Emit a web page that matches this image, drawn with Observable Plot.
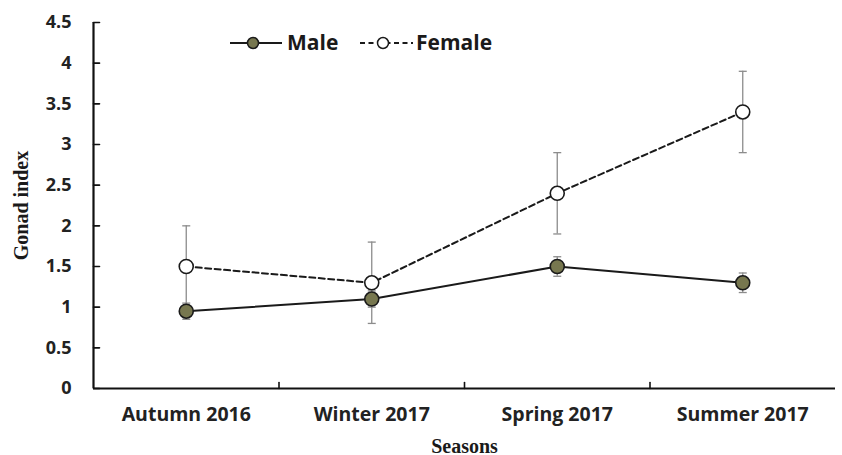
<!DOCTYPE html>
<html>
<head>
<meta charset="utf-8">
<script src="https://cdn.jsdelivr.net/npm/d3@7"></script>
<script src="https://cdn.jsdelivr.net/npm/@observablehq/plot@0.6"></script>
<style>
  body { margin: 0; background: #fff; }
  #chart { position: relative; width: 842px; height: 455px; }
  #chart svg { display: block; }
  g[aria-label="y-axis tick label"], g[aria-label="x-axis tick label"] {
    font-family: "Open Sans", Lato, sans-serif; font-weight: 700; fill: #222;
  }
  g[aria-label="y-axis tick label"] { font-size: 18px; }
  g[aria-label="x-axis tick label"] { font-size: 19.5px; }
  g[aria-label="y-axis label"], g[aria-label="x-axis label"] {
    font-family: "Liberation Serif", "DejaVu Serif", serif; font-weight: 700; font-size: 20px; fill: #1a1a1a;
  }
  #legend { position: absolute; left: 222px; top: 26px; overflow: visible; }
  #legend text { font-family: "Open Sans", Lato, sans-serif; font-weight: 700; font-size: 21px; fill: #1a1a1a; }
</style>
</head>
<body>
<div id="chart"></div>
<script>
// Seasonal gonad index (mean ± SE) of males and females
const seasons = ["Autumn 2016", "Winter 2017", "Spring 2017", "Summer 2017"];
const maleMean = [0.95, 1.1, 1.5, 1.3];
const maleSE = [0.1, 0.1, 0.12, 0.12];
const femaleMean = [1.5, 1.3, 2.4, 3.4];
const femaleSE = [0.5, 0.5, 0.5, 0.5];
const yTicks = [0, 0.5, 1, 1.5, 2, 2.5, 3, 3.5, 4, 4.5];
const maleFill = "#77774f";

const rows = (mean, se) => seasons.map((season, i) => ({
  i, season, mean: mean[i], lo: mean[i] - se[i], hi: mean[i] + se[i]
}));
const male = rows(maleMean, maleSE);
const female = rows(femaleMean, femaleSE);
const both = [...female, ...male];

// Category positions on a linear index so tick marks can sit between seasons
const idx = seasons.map((_, i) => i);
const between = idx.slice(0, -1).map(i => i + 0.5);

// horizontal cap drawn as a symbol, so its width stays in pixels
const cap = {
  draw(context, size) {
    const r = Math.sqrt(size / Math.PI);
    context.moveTo(-r, 0);
    context.lineTo(r, 0);
  }
};

// plain straight tick, used by vector marks for inward axis ticks
const stem = {
  draw(context, length) {
    context.moveTo(0, 0);
    context.lineTo(0, -length);
  }
};

const errColor = "#8c8c8c";

const chart = Plot.plot({
  width: 842,
  height: 455,
  marginLeft: 93,
  marginRight: 7,
  marginTop: 22,
  marginBottom: 67,
  x: { type: "linear", domain: [-0.5, seasons.length - 0.5] },
  y: { domain: [0, 4.5] },
  marks: [
    // axes: labels only, tick marks are drawn inward below
    Plot.axisY({
      ticks: yTicks, tickSize: 0, tickPadding: 22, tickFormat: d => String(d),
      label: "Gonad index", labelAnchor: "center", labelOffset: 80, labelArrow: "none"
    }),
    Plot.axisX({
      ticks: idx, tickSize: 0, tickPadding: 19, tickFormat: i => seasons[i],
      label: "Seasons", labelAnchor: "center", labelOffset: 64, labelArrow: "none"
    }),
    Plot.ruleX([-0.5], { stroke: "#111", strokeWidth: 2.2 }),
    Plot.ruleY([0], { stroke: "#111", strokeWidth: 2.2 }),
    Plot.vector(yTicks, { x: -0.5, y: d => d, rotate: 90, length: 6, anchor: "start", shape: stem, stroke: "#111", strokeWidth: 1.6 }),
    Plot.vector(between, { x: d => d, y: 0, rotate: 0, length: 6, anchor: "start", shape: stem, stroke: "#111", strokeWidth: 1.6 }),

    // error bars
    Plot.ruleX(both, { x: "i", y1: "lo", y2: "hi", stroke: errColor, strokeWidth: 1.3 }),
    Plot.dot(both, { x: "i", y: "lo", symbol: cap, r: 4, fill: "none", stroke: errColor, strokeWidth: 1.3 }),
    Plot.dot(both, { x: "i", y: "hi", symbol: cap, r: 4, fill: "none", stroke: errColor, strokeWidth: 1.3 }),

    // series lines
    Plot.line(female, { x: "i", y: "mean", stroke: "#1a1a1a", strokeWidth: 2, strokeDasharray: "6,3.5" }),
    Plot.line(male, { x: "i", y: "mean", stroke: "#1a1a1a", strokeWidth: 2 }),

    // markers
    Plot.dot(female, { x: "i", y: "mean", r: 7, fill: "#fff", stroke: "#1a1a1a", strokeWidth: 1.6 }),
    Plot.dot(male, { x: "i", y: "mean", r: 7, fill: maleFill, stroke: "#1a1a1a", strokeWidth: 1.6 })
  ]
});

const host = document.getElementById("chart");
host.appendChild(chart);

// legend placed inside the plotting area, top left
const lg = d3.select(host).append("svg")
  .attr("id", "legend").attr("width", 300).attr("height", 36);
const cy = 17;
const items = [
  { name: "Male", fill: maleFill, dash: null, x0: 8, x1: 60, cx: 31, tx: 65 },
  { name: "Female", fill: "#fff", dash: "5,3.5", x0: 138, x1: 191, cx: 161, tx: 194 }
];
const g = lg.selectAll("g").data(items).join("g");
g.append("line")
  .attr("x1", d => d.x0).attr("x2", d => d.x1).attr("y1", cy).attr("y2", cy)
  .attr("stroke", "#1a1a1a").attr("stroke-width", 2)
  .attr("stroke-dasharray", d => d.dash);
g.append("circle")
  .attr("cx", d => d.cx).attr("cy", cy).attr("r", 5.5)
  .attr("fill", d => d.fill).attr("stroke", "#1a1a1a").attr("stroke-width", 1.5);
g.append("text")
  .attr("x", d => d.tx).attr("y", cy).attr("dy", "0.35em")
  .text(d => d.name);
</script>
</body>
</html>
